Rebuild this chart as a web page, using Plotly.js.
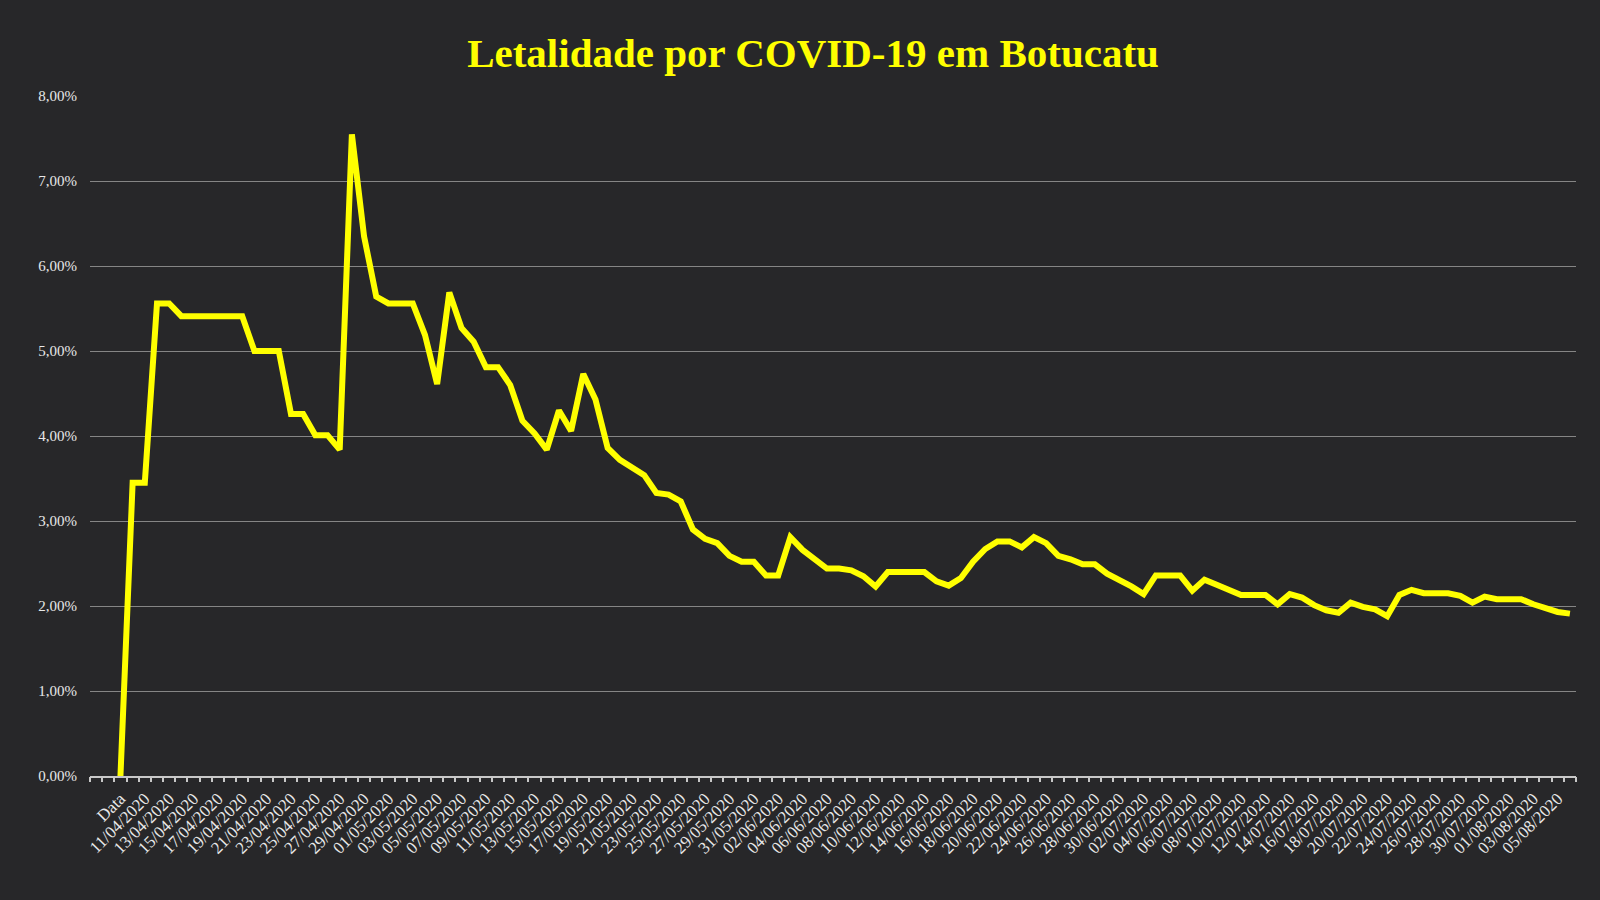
<!DOCTYPE html>
<html>
<head>
<meta charset="utf-8">
<script src="https://cdn.plot.ly/plotly-3.0.1.min.js"></script>
<style>
  html, body { margin: 0; padding: 0; background: #272729; }
  #chart { width: 1600px; height: 900px; }
</style>
</head>
<body>
<div id="chart"></div>
<script>
const chartTitle = "Letalidade por COVID-19 em Botucatu";

const categories = [
  "Data",
  "10/04/2020","11/04/2020","12/04/2020","13/04/2020","14/04/2020","15/04/2020","16/04/2020","17/04/2020","18/04/2020","19/04/2020",
  "20/04/2020","21/04/2020","22/04/2020","23/04/2020","24/04/2020","25/04/2020","26/04/2020","27/04/2020","28/04/2020","29/04/2020","30/04/2020",
  "01/05/2020","02/05/2020","03/05/2020","04/05/2020","05/05/2020","06/05/2020","07/05/2020","08/05/2020","09/05/2020","10/05/2020",
  "11/05/2020","12/05/2020","13/05/2020","14/05/2020","15/05/2020","16/05/2020","17/05/2020","18/05/2020","19/05/2020","20/05/2020",
  "21/05/2020","22/05/2020","23/05/2020","24/05/2020","25/05/2020","26/05/2020","27/05/2020","28/05/2020","29/05/2020","30/05/2020","31/05/2020",
  "01/06/2020","02/06/2020","03/06/2020","04/06/2020","05/06/2020","06/06/2020","07/06/2020","08/06/2020","09/06/2020","10/06/2020",
  "11/06/2020","12/06/2020","13/06/2020","14/06/2020","15/06/2020","16/06/2020","17/06/2020","18/06/2020","19/06/2020","20/06/2020",
  "21/06/2020","22/06/2020","23/06/2020","24/06/2020","25/06/2020","26/06/2020","27/06/2020","28/06/2020","29/06/2020","30/06/2020",
  "01/07/2020","02/07/2020","03/07/2020","04/07/2020","05/07/2020","06/07/2020","07/07/2020","08/07/2020","09/07/2020","10/07/2020",
  "11/07/2020","12/07/2020","13/07/2020","14/07/2020","15/07/2020","16/07/2020","17/07/2020","18/07/2020","19/07/2020","20/07/2020",
  "21/07/2020","22/07/2020","23/07/2020","24/07/2020","25/07/2020","26/07/2020","27/07/2020","28/07/2020","29/07/2020","30/07/2020","31/07/2020",
  "01/08/2020","02/08/2020","03/08/2020","04/08/2020","05/08/2020","06/08/2020"
];

// Letalidade (%)
const letalidade = [
  0, 3.45, 3.45, 5.56, 5.56, 5.41, 5.41, 5.41, 5.41, 5.41,
  5.41, 5.00, 5.00, 5.00, 4.26, 4.26, 4.01, 4.01, 3.84, 7.55,
  6.35, 5.64, 5.56, 5.56, 5.56, 5.19, 4.61, 5.69, 5.27, 5.11,
  4.81, 4.81, 4.60, 4.18, 4.03, 3.84, 4.30, 4.06, 4.73, 4.43,
  3.86, 3.72, 3.63, 3.54, 3.33, 3.31, 3.23, 2.90, 2.79, 2.74,
  2.59, 2.52, 2.52, 2.36, 2.36, 2.81, 2.66, 2.56, 2.44, 2.44,
  2.42, 2.35, 2.23, 2.40, 2.40, 2.40, 2.40, 2.29, 2.24, 2.33,
  2.52, 2.67, 2.76, 2.76, 2.69, 2.81, 2.74, 2.59, 2.55, 2.49,
  2.49, 2.38, 2.31, 2.23, 2.14, 2.36, 2.36, 2.36, 2.18, 2.31,
  2.25, 2.19, 2.13, 2.13, 2.13, 2.02, 2.14, 2.10, 2.01, 1.95,
  1.92, 2.04, 1.99, 1.96, 1.88, 2.13, 2.19, 2.15, 2.15, 2.15,
  2.12, 2.04, 2.11, 2.08, 2.08, 2.08, 2.02, 1.98, 1.93, 1.91
];

const yTicks = [0, 1, 2, 3, 4, 5, 6, 7, 8];
const yTickLabels = ["0,00%", "1,00%", "2,00%", "3,00%", "4,00%", "5,00%", "6,00%", "7,00%", "8,00%"];
const xTickLabels = categories.filter((c, i) => i % 2 === 0);

const serif = "'Liberation Serif', 'DejaVu Serif', serif";
const nBlankBefore = 2;
const xRange = [-nBlankBefore - 0.5, categories.length - 0.5];

const traces = [
  {
    type: "scatter",
    mode: "lines",
    x: categories,
    y: letalidade,
    line: { color: "#FFFF00", width: 6, shape: "linear" },
    hoverinfo: "x+y",
    showlegend: false
  },
  {
    // helper trace so the boundary tick axis is drawn
    type: "scatter",
    mode: "markers",
    x: [xRange[0]],
    y: [null],
    xaxis: "x2",
    yaxis: "y",
    hoverinfo: "skip",
    showlegend: false
  }
];

const layout = {
  width: 1600,
  height: 900,
  paper_bgcolor: "#272729",
  plot_bgcolor: "#272729",
  separators: ",.",
  margin: { l: 90, r: 24, t: 96, b: 124 },
  title: {
    text: "<b>" + chartTitle + "</b>",
    font: { family: serif, size: 41, color: "#FFFF00" },
    x: 813 / 1600, xref: "container", xanchor: "center",
    y: 1 - 53 / 900, yref: "container", yanchor: "middle"
  },
  xaxis: {
    type: "category",
    categoryorder: "array",
    categoryarray: categories,
    range: xRange,
    tickmode: "array",
    tickvals: xTickLabels,
    ticktext: xTickLabels,
    tickangle: -45,
    ticks: "",
    ticklabelstandoff: 4,
    tickfont: { family: serif, size: 17, color: "#e8e8e8" },
    showgrid: false,
    zeroline: false,
    showline: true,
    linecolor: "#c8c8c8",
    linewidth: 2,
    fixedrange: true
  },
  xaxis2: {
    overlaying: "x",
    anchor: "y",
    side: "bottom",
    range: xRange,
    tickmode: "linear",
    tick0: xRange[0],
    dtick: 1,
    ticks: "outside",
    ticklen: 5,
    tickwidth: 1.5,
    tickcolor: "#c8c8c8",
    showticklabels: false,
    showgrid: false,
    zeroline: false,
    showline: false,
    fixedrange: true
  },
  yaxis: {
    range: [0, 8],
    tickmode: "array",
    tickvals: yTicks,
    ticktext: yTickLabels,
    ticks: "",
    ticklabelstandoff: 12,
    tickfont: { family: serif, size: 15, color: "#e8e8e8" },
    showgrid: true,
    gridcolor: "#858585",
    gridwidth: 1.2,
    zeroline: false,
    showline: false,
    fixedrange: true
  }
};

Plotly.newPlot("chart", traces, layout, { displayModeBar: false });
</script>
</body>
</html>
